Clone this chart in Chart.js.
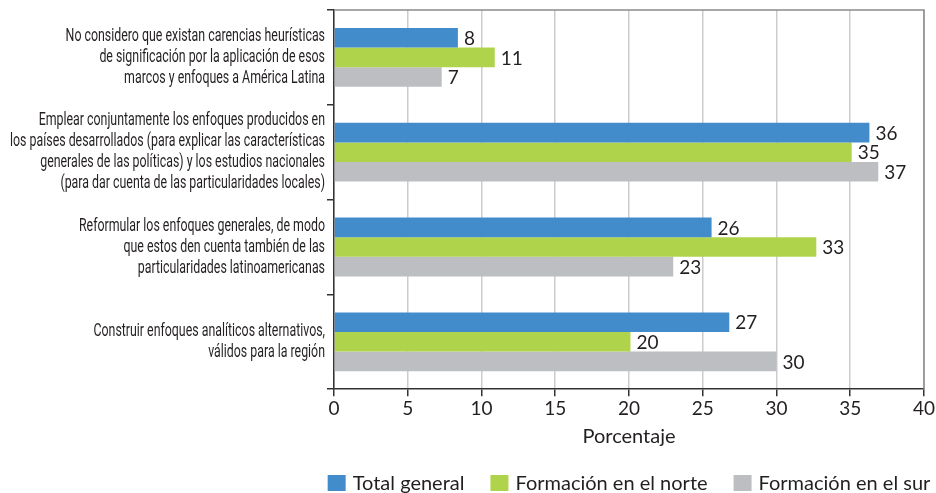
<!DOCTYPE html>
<html>
<head>
<meta charset="utf-8">
<script src="https://cdn.jsdelivr.net/npm/chart.js@4"></script>
<style>
  html, body { margin: 0; padding: 0; background: #fff; }
  #wrap { width: 936px; height: 493px; }
</style>
</head>
<body>
<div id="wrap"><canvas id="chart"></canvas></div>
<script>
// ===== Data =====
const categories = [
    ['No considero que existan carencias heurísticas', 'de significación por la aplicación de esos', 'marcos y enfoques a América Latina'],
    ['Emplear conjuntamente los enfoques producidos en', 'los países desarrollados (para explicar las características', 'generales de las políticas) y los estudios nacionales', '(para dar cuenta de las particularidades locales)'],
    ['Reformular los enfoques generales, de modo', 'que estos den cuenta también de las', 'particularidades latinoamericanas'],
    ['Construir enfoques analíticos alternativos,', 'válidos para la región']
];
const seriesNames = ['Total general', 'Formación en el norte', 'Formación en el sur'];
const totalGeneral = [8.4, 36.3, 25.6, 26.8];
const formacionNorte = [10.9, 35.1, 32.7, 20.1];
const formacionSur = [7.3, 36.9, 23.0, 30.0];
const xTicks = [0, 5, 10, 15, 20, 25, 30, 35, 40];
const colors = ['#438ccb', '#b0d34c', '#bdbec2'];

const TEXT = '#231f20';
const NUM_FONT = 'Lato, "Liberation Sans", sans-serif';
const LABEL_FONT = '19px Roboto, "Liberation Sans", sans-serif';

// ===== Plugins =====
const valueLabels = {
    id: 'valueLabels',
    afterDatasetsDraw(chart) {
        const ctx = chart.ctx;
        ctx.save();
        ctx.font = '19px ' + NUM_FONT;
        ctx.fillStyle = TEXT;
        ctx.textAlign = 'left';
        ctx.textBaseline = 'middle';
        chart.data.datasets.forEach((ds, i) => {
            chart.getDatasetMeta(i).data.forEach((bar, j) => {
                ctx.fillText(Math.round(ds.data[j]), bar.x + 6, bar.y + 1);
            });
        });
        ctx.restore();
    }
};

// condensed category labels (the original uses a condensed face)
const categoryLabels = {
    id: 'categoryLabels',
    afterDraw(chart) {
        const ctx = chart.ctx, y = chart.scales.y;
        const rightX = y.right - 9;
        ctx.save();
        ctx.font = LABEL_FONT;
        let widest = 0;
        categories.flat().forEach(t => { widest = Math.max(widest, ctx.measureText(t).width); });
        const sx = 315 / widest;
        ctx.fillStyle = TEXT;
        ctx.textAlign = 'right';
        ctx.textBaseline = 'middle';
        categories.forEach((lines, i) => {
            const cy = y.getPixelForTick(i);
            const lh = 21;
            const y0 = cy - (lines.length - 1) * lh / 2;
            lines.forEach((t, k) => {
                ctx.save();
                ctx.translate(rightX, y0 + k * lh);
                ctx.scale(sx, 1);
                ctx.fillText(t, 0, 0);
                ctx.restore();
            });
        });
        ctx.restore();
    }
};

const frame = {
    id: 'frame',
    afterDraw(chart) {
        const a = chart.chartArea, ctx = chart.ctx;
        ctx.save();
        ctx.strokeStyle = '#8a8a8a';
        ctx.lineWidth = 1.5;
        ctx.beginPath();
        ctx.moveTo(a.left, a.top);
        ctx.lineTo(a.right, a.top);
        ctx.lineTo(a.right, a.bottom);
        ctx.stroke();
        ctx.restore();
    }
};

// legend drawn by hand so it stays on one row under the plot
const bottomLegend = {
    id: 'bottomLegend',
    afterDraw(chart) {
        const ctx = chart.ctx, a = chart.chartArea;
        ctx.save();
        ctx.font = '20px ' + NUM_FONT;
        const gap = 26, textOff = 25;
        const widths = chart.data.datasets.map(ds => textOff + ctx.measureText(ds.label).width);
        const total = widths.reduce((s, w) => s + w, 0) + gap * (widths.length - 1);
        let x = (a.left + a.right) / 2 - total / 2;
        const cy = 483;
        ctx.textBaseline = 'middle';
        ctx.textAlign = 'left';
        chart.data.datasets.forEach((ds, i) => {
            ctx.fillStyle = ds.backgroundColor;
            ctx.fillRect(x, cy - 8, 18, 16);
            ctx.fillStyle = TEXT;
            ctx.fillText(ds.label, x + textOff, cy + 1);
            x += widths[i] + gap;
        });
        ctx.restore();
    }
};

// ===== Chart =====
new Chart(document.getElementById('chart'), {
    type: 'bar',
    data: {
        labels: categories,
        datasets: [
            { label: seriesNames[0], data: totalGeneral, backgroundColor: colors[0] },
            { label: seriesNames[1], data: formacionNorte, backgroundColor: colors[1] },
            { label: seriesNames[2], data: formacionSur, backgroundColor: colors[2] }
        ]
    },
    options: {
        indexAxis: 'y',
        responsive: true,
        maintainAspectRatio: false,
        animation: false,
        layout: { padding: { top: 10, right: 12, bottom: 44 } },
        datasets: { bar: { categoryPercentage: 0.62, barPercentage: 1 } },
        scales: {
            x: {
                min: 0, max: 40,
                afterBuildTicks: axis => { axis.ticks = xTicks.map(v => ({ value: v })); },
                grid: { color: '#cccccc', lineWidth: 1.5, tickColor: '#333', tickLength: 7 },
                border: { color: '#333', width: 1.5 },
                ticks: { color: TEXT, font: { family: NUM_FONT, size: 19 }, padding: 1 },
                title: { display: true, text: 'Porcentaje', color: TEXT, font: { family: NUM_FONT, size: 20 }, padding: { top: 4, bottom: 0 } }
            },
            y: {
                afterFit: axis => { axis.width = 334; },
                grid: { drawOnChartArea: false, offset: true, color: '#333', tickLength: 7, lineWidth: 1.5 },
                border: { color: '#333', width: 1.5 },
                ticks: { display: false }
            }
        },
        plugins: {
            legend: { display: false },
            tooltip: { enabled: false }
        }
    },
    plugins: [valueLabels, categoryLabels, frame, bottomLegend]
});
</script>
</body>
</html>
